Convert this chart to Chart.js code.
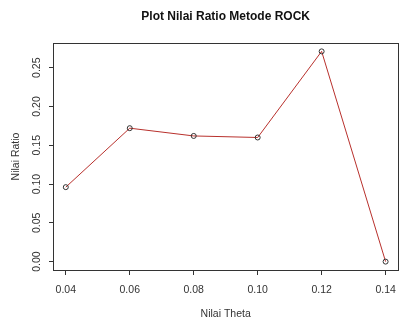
<!DOCTYPE html>
<html>
<head>
<meta charset="utf-8">
<title>Plot Nilai Ratio Metode ROCK</title>
<script src="https://cdn.jsdelivr.net/npm/chart.js@4/dist/chart.umd.min.js"></script>
<style>
  html, body { margin: 0; padding: 0; background: #fff; }
  #chart { display: block; }
</style>
</head>
<body>
<canvas id="chart" width="405" height="322"></canvas>
<script>
/* ── Data ── */
const THETA = [0.04, 0.06, 0.08, 0.10, 0.12, 0.14];
const RATIO = [0.096, 0.172, 0.162, 0.160, 0.271, 0.000];

const X_TICKS = [0.04, 0.06, 0.08, 0.10, 0.12, 0.14];
const Y_TICKS = [0.00, 0.05, 0.10, 0.15, 0.20, 0.25];

const TITLE = 'Plot Nilai Ratio Metode ROCK';

const FONT = "'Liberation Sans', Arial, sans-serif";
const INK = '#333';

/* R-style frame around the plot region, title centred over it */
const framePlugin = {
  id: 'frame',
  afterDraw(chart) {
    const { ctx, chartArea: a } = chart;
    ctx.save();
    ctx.strokeStyle = INK;
    ctx.lineWidth = 1;
    ctx.strokeRect(Math.round(a.left) + 0.5, Math.round(a.top) + 0.5,
                   Math.round(a.right - a.left), Math.round(a.bottom - a.top));

    ctx.fillStyle = '#111';
    ctx.font = `bold 12px ${FONT}`;
    ctx.textAlign = 'center';
    ctx.textBaseline = 'middle';
    ctx.fillText(TITLE, (a.left + a.right) / 2, 17);
    ctx.restore();
  }
};

new Chart(document.getElementById('chart'), {
  type: 'line',
  data: {
    datasets: [{
      data: THETA.map((t, i) => ({ x: t, y: RATIO[i] })),
      borderColor: '#b8302c',
      borderWidth: 1,
      tension: 0,
      pointRadius: 2.5,
      pointBorderWidth: 1,
      pointBorderColor: INK,
      pointBackgroundColor: 'rgba(0,0,0,0)',
    }]
  },
  plugins: [framePlugin],
  options: {
    responsive: false,
    animation: false,
    layout: { padding: { left: 0, right: 4, top: 43, bottom: 0 } },
    plugins: {
      legend: { display: false },
      tooltip: { enabled: false },
      title: { display: false }
    },
    scales: {
      x: {
        type: 'linear',
        min: 0.036,
        max: 0.144,
        afterBuildTicks: s => { s.ticks = X_TICKS.map(v => ({ value: v })); },
        afterFit: s => { s.height = 52; },
        grid: { drawOnChartArea: false, drawTicks: true, tickLength: 5, color: INK },
        border: { display: false },
        ticks: {
          color: INK,
          padding: 9,
          font: { family: FONT, size: 10.5 },
          callback: v => v.toFixed(2)
        },
        title: {
          display: true,
          text: 'Nilai Theta',
          color: INK,
          font: { family: FONT, size: 10.5 },
          padding: { top: 0, bottom: 1.5 }
        }
      },
      y: {
        type: 'linear',
        min: -0.0108,
        max: 0.2818,
        afterBuildTicks: s => { s.ticks = Y_TICKS.map(v => ({ value: v })); },
        afterFit: s => { s.width = 53; },
        grid: { drawOnChartArea: false, drawTicks: true, tickLength: 4, color: INK },
        border: { display: false },
        ticks: {
          color: INK,
          padding: 2,
          minRotation: 90,
          maxRotation: 90,
          crossAlign: 'center',
          font: { family: FONT, size: 10.5 },
          callback: v => v.toFixed(2)
        },
        title: {
          display: true,
          text: 'Nilai Ratio',
          color: INK,
          font: { family: FONT, size: 10.5 },
          padding: { top: 9.7, bottom: 0 }
        }
      }
    }
  }
});
</script>
</body>
</html>
